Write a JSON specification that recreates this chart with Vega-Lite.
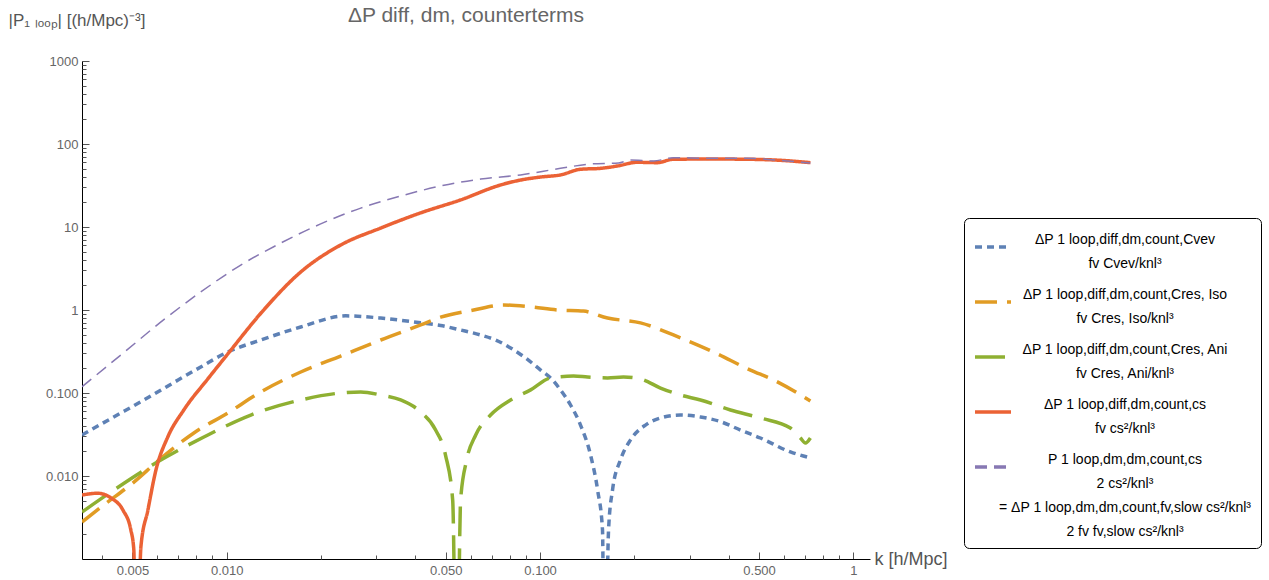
{
  "$schema": "https://vega.github.io/schema/vega-lite/v6.json",
  "width": 788,
  "height": 498,
  "autosize": {"type": "none"},
  "padding": {"left": 82, "top": 61, "right": 399, "bottom": 21},
  "background": "white",
  "title": {"text": "ΔP diff, dm, counterterms", "frame": "group", "anchor": "middle", "dx": -10, "offset": -32, "baseline": "alphabetic", "fontSize": 21, "font": "Liberation Sans", "fontWeight": "normal", "color": "#666666"},
  "config": {
    "view": {"stroke": null},
    "style": {"guide-label": {"lineHeight": 24}},
    "axis": {"grid": false, "domainColor": "#000000", "domainWidth": 1, "tickColor": "#555555", "tickWidth": 1, "labelFont": "Liberation Sans", "labelColor": "#666666", "labelFontSize": 13, "labelFlush": false, "labelOverlap": false, "titleFont": "Liberation Sans", "titleFontWeight": "normal", "titleColor": "#555555"},
    "legend": {"symbolType": "stroke", "symbolSize": 1296, "symbolStrokeWidth": 3.5, "labelFont": "Liberation Sans", "labelFontSize": 14, "labelColor": "#000000", "labelLimit": 1000, "labelAlign": "center", "labelBaseline": "bottom", "labelOffset": 112, "rowPadding": 11, "padding": 9, "strokeColor": "#000000", "cornerRadius": 5, "fillColor": "#ffffff"}
  },
  "data": {"values": [
    {"s":"vev","k":0.00345,"v":0.0312},{"s":"vev","k":0.00427,"v":0.0493},{"s":"vev","k":0.00544,"v":0.0824},{"s":"vev","k":0.00678,"v":0.134},{"s":"vev","k":0.00826,"v":0.206},{"s":"vev","k":0.01007,"v":0.312},{"s":"vev","k":0.01284,"v":0.435},{"s":"vev","k":0.01722,"v":0.624},{"s":"vev","k":0.02396,"v":0.85},{"s":"vev","k":0.03099,"v":0.80},{"s":"vev","k":0.04157,"v":0.70},{"s":"vev","k":0.04815,"v":0.65},{"s":"vev","k":0.05576,"v":0.574},{"s":"vev","k":0.0646,"v":0.50},{"s":"vev","k":0.07213,"v":0.435},{"s":"vev","k":0.08052,"v":0.349},{"s":"vev","k":0.08991,"v":0.264},{"s":"vev","k":0.1004,"v":0.189},{"s":"vev","k":0.108,"v":0.152},{"s":"vev","k":0.1162,"v":0.109},{"s":"vev","k":0.1251,"v":0.0717},{"s":"vev","k":0.1346,"v":0.0411},{"s":"vev","k":0.1449,"v":0.0179},{"s":"vev","k":0.1526,"v":0.00678},{"s":"vev","k":0.1582,"v":0.00224},{"s":"vev","k":0.1606,"v":0.00001},{"s":"vev","k":0.1654,"v":0.00224},{"s":"vev","k":0.1703,"v":0.00678},{"s":"vev","k":0.1806,"v":0.0157},{"s":"vev","k":0.1944,"v":0.0272},{"s":"vev","k":0.217,"v":0.0411},{"s":"vev","k":0.2423,"v":0.050},{"s":"vev","k":0.2806,"v":0.0543},{"s":"vev","k":0.3251,"v":0.0514},{"s":"vev","k":0.3764,"v":0.0452},{"s":"vev","k":0.436,"v":0.0358},{"s":"vev","k":0.505,"v":0.0287},{"s":"vev","k":0.6295,"v":0.0195},{"s":"vev","k":0.7292,"v":0.0165},
    {"s":"iso","k":0.00345,"v":0.00279},{"s":"iso","k":0.00405,"v":0.00448},{"s":"iso","k":0.00501,"v":0.00823},{"s":"iso","k":0.00616,"v":0.0163},{"s":"iso","k":0.00785,"v":0.033},{"s":"iso","k":0.01007,"v":0.0574},{"s":"iso","k":0.01284,"v":0.103},{"s":"iso","k":0.01722,"v":0.179},{"s":"iso","k":0.0231,"v":0.279},{"s":"iso","k":0.03099,"v":0.435},{"s":"iso","k":0.04157,"v":0.66},{"s":"iso","k":0.04815,"v":0.82},{"s":"iso","k":0.06138,"v":1.0},{"s":"iso","k":0.07649,"v":1.15},{"s":"iso","k":0.09326,"v":1.09},{"s":"iso","k":0.1137,"v":1.0},{"s":"iso","k":0.1376,"v":0.97},{"s":"iso","k":0.1642,"v":0.80},{"s":"iso","k":0.2092,"v":0.70},{"s":"iso","k":0.2665,"v":0.50},{"s":"iso","k":0.3575,"v":0.312},{"s":"iso","k":0.4694,"v":0.189},{"s":"iso","k":0.5555,"v":0.144},{"s":"iso","k":0.7292,"v":0.0801},
    {"s":"ani","k":0.00345,"v":0.00368},{"s":"ani","k":0.00436,"v":0.00678},{"s":"ani","k":0.00602,"v":0.0148},{"s":"ani","k":0.00845,"v":0.0295},{"s":"ani","k":0.01193,"v":0.0543},{"s":"ani","k":0.01722,"v":0.0824},{"s":"ani","k":0.0231,"v":0.100},{"s":"ani","k":0.02676,"v":0.103},{"s":"ani","k":0.03099,"v":0.0946},{"s":"ani","k":0.03589,"v":0.0824},{"s":"ani","k":0.04157,"v":0.059},{"s":"ani","k":0.0464,"v":0.0358},{"s":"ani","k":0.0499,"v":0.0179},{"s":"ani","k":0.0526,"v":0.00514},{"s":"ani","k":0.0542,"v":0.00001},{"s":"ani","k":0.05576,"v":0.00514},{"s":"ani","k":0.0583,"v":0.0156},{"s":"ani","k":0.0623,"v":0.0312},{"s":"ani","k":0.0695,"v":0.0543},{"s":"ani","k":0.0805,"v":0.0824},{"s":"ani","k":0.0933,"v":0.109},{"s":"ani","k":0.108,"v":0.152},{"s":"ani","k":0.1279,"v":0.160},{"s":"ani","k":0.1417,"v":0.156},{"s":"ani","k":0.1642,"v":0.152},{"s":"ani","k":0.1846,"v":0.156},{"s":"ani","k":0.2092,"v":0.148},{"s":"ani","k":0.2423,"v":0.1148},{"s":"ani","k":0.2806,"v":0.0946},{"s":"ani","k":0.3251,"v":0.0824},{"s":"ani","k":0.4053,"v":0.0624},{"s":"ani","k":0.505,"v":0.050},{"s":"ani","k":0.6295,"v":0.0378},{"s":"ani","k":0.6776,"v":0.0287},{"s":"ani","k":0.703,"v":0.025},{"s":"ani","k":0.7292,"v":0.0287},
    {"s":"cs","k":0.00345,"v":0.0059},{"s":"cs","k":0.00387,"v":0.0062},{"s":"cs","k":0.00427,"v":0.00543},{"s":"cs","k":0.00466,"v":0.00389},{"s":"cs","k":0.00494,"v":0.00224},{"s":"cs","k":0.00505,"v":0.00128},{"s":"cs","k":0.00513,"v":0.00001},{"s":"cs","k":0.00532,"v":0.00141},{"s":"cs","k":0.0056,"v":0.00389},{"s":"cs","k":0.00594,"v":0.0118},{"s":"cs","k":0.00648,"v":0.0295},{"s":"cs","k":0.00729,"v":0.0624},{"s":"cs","k":0.0087,"v":0.148},{"s":"cs","k":0.01007,"v":0.295},{"s":"cs","k":0.01303,"v":0.973},{"s":"cs","k":0.01722,"v":2.87},{"s":"cs","k":0.0231,"v":6.07},{"s":"cs","k":0.031,"v":9.72},{"s":"cs","k":0.04157,"v":14.8},{"s":"cs","k":0.05576,"v":21.2},{"s":"cs","k":0.07482,"v":32.1},{"s":"cs","k":0.08665,"v":36.8},{"s":"cs","k":0.1004,"v":40.0},{"s":"cs","k":0.1162,"v":42.4},{"s":"cs","k":0.1346,"v":49.6},{"s":"cs","k":0.156,"v":50.9},{"s":"cs","k":0.1763,"v":54.3},{"s":"cs","k":0.2042,"v":60.2},{"s":"cs","k":0.2364,"v":59.6},{"s":"cs","k":0.2665,"v":65.5},{"s":"cs","k":0.3499,"v":65.9},{"s":"cs","k":0.4581,"v":65.5},{"s":"cs","k":0.6143,"v":62.9},{"s":"cs","k":0.7292,"v":59.6},
    {"s":"dm","k":0.00345,"v":0.119},{"s":"dm","k":0.00459,"v":0.287},{"s":"dm","k":0.00639,"v":0.80},{"s":"dm","k":0.00826,"v":1.65},{"s":"dm","k":0.01108,"v":3.48},{"s":"dm","k":0.01487,"v":6.41},{"s":"dm","k":0.01994,"v":10.9},{"s":"dm","k":0.02676,"v":16.9},{"s":"dm","k":0.03589,"v":23.6},{"s":"dm","k":0.04815,"v":31.2},{"s":"dm","k":0.0646,"v":37.8},{"s":"dm","k":0.08665,"v":42.4},{"s":"dm","k":0.1162,"v":50.9},{"s":"dm","k":0.1449,"v":57.4},{"s":"dm","k":0.178,"v":59.1},{"s":"dm","k":0.1944,"v":64.1},{"s":"dm","k":0.2301,"v":62.4},{"s":"dm","k":0.2665,"v":68.4},{"s":"dm","k":0.3499,"v":67.3},{"s":"dm","k":0.4581,"v":67.3},{"s":"dm","k":0.6143,"v":62.4},{"s":"dm","k":0.7292,"v":59.1}
  ]},
  "resolve": {"axis": {"x": "independent", "y": "independent"}},
  "layer": [
    {
      "transform": [{"filter": "datum.s != 'dm'"}],
      "mark": {"type": "line", "strokeWidth": 3.5, "clip": true, "interpolate": "monotone"},
      "encoding": {
        "x": {"field": "k", "type": "quantitative", "scale": {"type": "log", "domain": [0.00345, 1.13], "nice": false},
          "axis": {"orient": "bottom", "values": [0.005, 0.01, 0.05, 0.1, 0.5, 1], "labelExpr": "datum.value >= 1 ? '1' : format(datum.value, '.3f')", "tickSize": -7, "labelPadding": 12, "title": "k [h/Mpc]", "titleAngle": 0, "titleX": 792, "titleY": 0, "titleAlign": "left", "titleBaseline": "middle", "titleFontSize": 18}},
        "y": {"field": "v", "type": "quantitative", "scale": {"type": "log", "domain": [0.001, 1000], "nice": false},
          "axis": {"orient": "left", "values": [0.01, 0.1, 1, 10, 100, 1000], "labelExpr": "datum.value >= 1 ? format(datum.value, 'd') : format(datum.value, '.3f')", "tickSize": -7, "labelPadding": 11, "title": "|P₁ ₗₒₒₚ| [(h/Mpc)⁻³]", "titleAngle": 0, "titleX": -74, "titleY": -36, "titleAlign": "left", "titleBaseline": "alphabetic", "titleFontSize": 17}},
        "color": {"field": "s", "type": "nominal", "scale": {"domain": ["vev", "iso", "ani", "cs", "dm"], "range": ["#5E81B5", "#E19C24", "#8FB032", "#EB6235", "#8778B3"]},
          "legend": {"title": null, "orient": "none", "legendX": 882, "legendY": 157, "labelExpr": "datum.value == 'vev' ? ['ΔP 1 loop,diff,dm,count,Cvev', 'fv Cvev/knl³'] : datum.value == 'iso' ? ['ΔP 1 loop,diff,dm,count,Cres, Iso', 'fv Cres, Iso/knl³'] : datum.value == 'ani' ? ['ΔP 1 loop,diff,dm,count,Cres, Ani', 'fv Cres, Ani/knl³'] : datum.value == 'cs' ? ['ΔP 1 loop,diff,dm,count,cs', 'fv cs²/knl³'] : ['P 1 loop,dm,dm,count,cs', '2 cs²/knl³', '= ΔP 1 loop,dm,dm,count,fv,slow cs²/knl³', '2 fv fv,slow cs²/knl³']"}},
        "strokeDash": {"field": "s", "type": "nominal", "scale": {"domain": ["vev", "iso", "ani", "cs", "dm"], "range": [[7, 5], [22, 10], [30, 12], [1, 0], [12, 7]]},
          "legend": {"title": null, "orient": "none", "legendX": 882, "legendY": 157, "labelExpr": "datum.value == 'vev' ? ['ΔP 1 loop,diff,dm,count,Cvev', 'fv Cvev/knl³'] : datum.value == 'iso' ? ['ΔP 1 loop,diff,dm,count,Cres, Iso', 'fv Cres, Iso/knl³'] : datum.value == 'ani' ? ['ΔP 1 loop,diff,dm,count,Cres, Ani', 'fv Cres, Ani/knl³'] : datum.value == 'cs' ? ['ΔP 1 loop,diff,dm,count,cs', 'fv cs²/knl³'] : ['P 1 loop,dm,dm,count,cs', '2 cs²/knl³', '= ΔP 1 loop,dm,dm,count,fv,slow cs²/knl³', '2 fv fv,slow cs²/knl³']"}}
      }
    },
    {
      "transform": [{"filter": "datum.s == 'dm'"}],
      "mark": {"type": "line", "strokeWidth": 1.5, "clip": true, "interpolate": "monotone"},
      "encoding": {
        "x": {"field": "k", "type": "quantitative",
          "axis": {"orient": "bottom", "values": [0.004, 0.006, 0.007, 0.008, 0.009, 0.02, 0.03, 0.04, 0.06, 0.07, 0.08, 0.09, 0.2, 0.3, 0.4, 0.6, 0.7, 0.8, 0.9], "labels": false, "domain": false, "tickSize": -4, "title": null}},
        "y": {"field": "v", "type": "quantitative",
          "axis": {"orient": "left", "values": [0.002, 0.003, 0.004, 0.005, 0.006, 0.007, 0.008, 0.009, 0.02, 0.03, 0.04, 0.05, 0.06, 0.07, 0.08, 0.09, 0.2, 0.3, 0.4, 0.5, 0.6, 0.7, 0.8, 0.9, 2, 3, 4, 5, 6, 7, 8, 9, 20, 30, 40, 50, 60, 70, 80, 90, 200, 300, 400, 500, 600, 700, 800, 900], "labels": false, "domain": false, "tickSize": -4, "title": null}},
        "color": {"field": "s", "type": "nominal"},
        "strokeDash": {"field": "s", "type": "nominal"}
      }
    }
  ]
}
